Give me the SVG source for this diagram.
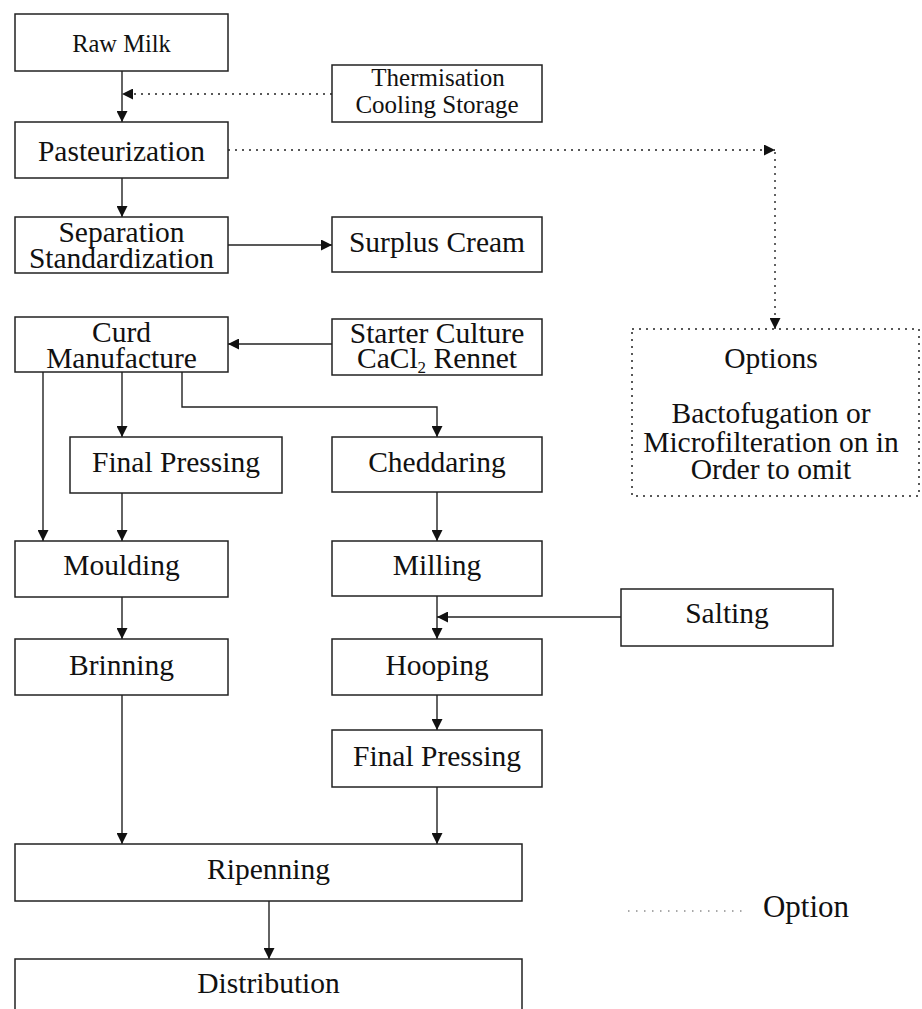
<svg xmlns="http://www.w3.org/2000/svg" width="922" height="1009" viewBox="0 0 922 1009">
<defs>
<marker id="ah" viewBox="0 0 10 10" refX="10" refY="5" markerWidth="11" markerHeight="11" markerUnits="userSpaceOnUse" orient="auto">
<path d="M0,0 L10,5 L0,10 z" fill="#111"/>
</marker>
<style>
.box{fill:#fff;stroke:#222;stroke-width:1.5}
.dbox{fill:#fff;stroke:#222;stroke-width:1.5;stroke-dasharray:2 5}
.t{font-family:"Liberation Serif","Times New Roman",serif;font-size:29.5px;fill:#111;text-anchor:middle}
.s{font-size:25px}
.ln{fill:none;stroke:#222;stroke-width:1.4;marker-end:url(#ah)}
.dl{fill:none;stroke:#222;stroke-width:1.4;stroke-dasharray:2 5;marker-end:url(#ah)}
</style>
</defs>
<rect width="922" height="1009" fill="#fff"/>
<g id="connectors">
<path class="ln" d="M122 71 V122"/>
<path class="dl" d="M332 94 H122"/>
<path class="dl" d="M228 150 H775"/>
<path class="dl" d="M775 152 V329"/>
<path class="ln" d="M122 178 V217"/>
<path class="ln" d="M228 245 H332"/>
<path class="ln" d="M332 344 H228"/>
<path class="ln" d="M43 372 V541"/>
<path class="ln" d="M122 372 V437"/>
<path class="ln" d="M182 372 V407 H437 V437"/>
<path class="ln" d="M122 493 V541"/>
<path class="ln" d="M437 492 V541"/>
<path class="ln" d="M437 596 V639"/>
<path class="ln" d="M621 617 H437"/>
<path class="ln" d="M122 597 V639"/>
<path class="ln" d="M437 695 V730"/>
<path class="ln" d="M122 695 V844"/>
<path class="ln" d="M437 787 V844"/>
<path class="ln" d="M269 901 V959"/>
</g>
<g id="raw-milk"><rect class="box" x="15" y="14" width="213" height="57"/><text class="t" x="121.5" y="52" style="font-size:24.5px">Raw Milk</text></g>
<g id="thermisation"><rect class="box" x="332" y="65" width="210" height="57"/><text class="t s" x="438" y="86">Thermisation</text><text class="t s" x="437" y="113">Cooling Storage</text></g>
<g id="pasteurization"><rect class="box" x="15" y="122" width="213" height="56"/><text class="t" x="121.5" y="161">Pasteurization</text></g>
<g id="separation"><rect class="box" x="15" y="217" width="213" height="56"/><text class="t" x="121.5" y="242">Separation</text><text class="t" x="121.5" y="268">Standardization</text></g>
<g id="surplus-cream"><rect class="box" x="332" y="217" width="210" height="55"/><text class="t" x="437" y="252">Surplus Cream</text></g>
<g id="curd"><rect class="box" x="15" y="317" width="213" height="55"/><text class="t" x="121.5" y="342">Curd</text><text class="t" x="121.5" y="368">Manufacture</text></g>
<g id="starter"><rect class="box" x="332" y="319" width="210" height="56"/><text class="t" x="437" y="343">Starter Culture</text><text class="t" x="437" y="368">CaCl<tspan style="font-size:17px" dy="5">2</tspan><tspan dy="-5"> Rennet</tspan></text></g>
<g id="options"><rect class="dbox" x="632" y="329" width="287" height="167"/><text class="t" x="771" y="368">Options</text><text class="t" x="771" y="423">Bactofugation or</text><text class="t" x="771" y="452">Microfilteration on in</text><text class="t" x="771" y="479">Order to omit</text></g>
<g id="final-pressing-1"><rect class="box" x="70" y="437" width="212" height="56"/><text class="t" x="176" y="472">Final Pressing</text></g>
<g id="cheddaring"><rect class="box" x="332" y="437" width="210" height="55"/><text class="t" x="437" y="472">Cheddaring</text></g>
<g id="moulding"><rect class="box" x="15" y="541" width="213" height="56"/><text class="t" x="121.5" y="575">Moulding</text></g>
<g id="milling"><rect class="box" x="332" y="541" width="210" height="55"/><text class="t" x="437" y="575">Milling</text></g>
<g id="salting"><rect class="box" x="621" y="589" width="212" height="57"/><text class="t" x="727" y="623">Salting</text></g>
<g id="brinning"><rect class="box" x="15" y="639" width="213" height="56"/><text class="t" x="121.5" y="675">Brinning</text></g>
<g id="hooping"><rect class="box" x="332" y="639" width="210" height="56"/><text class="t" x="437" y="675">Hooping</text></g>
<g id="final-pressing-2"><rect class="box" x="332" y="730" width="210" height="57"/><text class="t" x="437" y="766">Final Pressing</text></g>
<g id="ripenning"><rect class="box" x="15" y="844" width="507" height="57"/><text class="t" x="268.5" y="879">Ripenning</text></g>
<g id="distribution"><rect class="box" x="15" y="959" width="507" height="70"/><text class="t" x="268.5" y="993">Distribution</text></g>
<g id="legend"><path d="M628 911 H743" fill="none" stroke="#555" stroke-width="1" stroke-dasharray="1.5 6.5"/><text class="t" x="806" y="917" style="font-size:31px">Option</text></g>
</svg>
